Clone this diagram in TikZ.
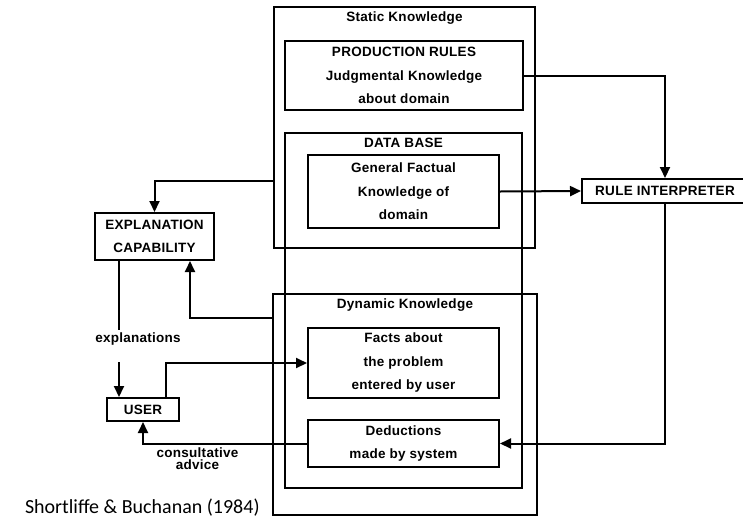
\documentclass[tikz,border=0pt]{standalone}
\usepackage{fontspec}
\setmainfont{Liberation Sans}[LetterSpace=2]
\newfontfamily\creditfont{Carlito}
\usetikzlibrary{arrows.meta, positioning}

\begin{document}
\begin{tikzpicture}[
    x=1pt, y=-1pt,
    >={Triangle[length=11pt,width=10pt]},
    line width=2pt,
    kbox/.style={draw, rectangle, inner sep=0pt, align=center,
        font=\fontsize{13.5}{23.5}\selectfont\bfseries},
    boxtitle/.style={inner sep=0pt, font=\fontsize{13.5}{15}\selectfont\bfseries},
    edgelabel/.style={inner sep=0pt, align=center,
        font=\fontsize{13.5}{12}\selectfont\bfseries}
]
\useasboundingbox (0,0) rectangle (743,517);

% knowledge base: static part, data base and dynamic part overlap
\node[kbox, minimum width=261pt, minimum height=241pt] (static) at (404.5,127.5) {};
\node[boxtitle, below=5pt of static.north] (statictitle) {Static Knowledge};
\node[kbox, minimum width=238pt, minimum height=69pt] (rules) at (404,75.5)
    {PRODUCTION RULES\\Judgmental Knowledge\\about domain};
\node[kbox, minimum width=237pt, minimum height=355pt] (database) at (403.5,310.5) {};
\node[boxtitle, below=5pt of database.north] (dbtitle) {DATA BASE};
\node[kbox, minimum width=191pt, minimum height=73pt] (factual) at (403.5,191.5)
    {General Factual\\Knowledge of\\domain};
\node[kbox, minimum width=264pt, minimum height=221pt] (dynamic) at (405,404.5) {};
\node[boxtitle, below=5pt of dynamic.north] (dyntitle) {Dynamic Knowledge};
\node[kbox, minimum width=191pt, minimum height=70pt] (facts) at (403.5,363)
    {Facts about\\the problem\\entered by user};
\node[kbox, minimum width=191pt, minimum height=47pt] (deductions) at (403.5,443.5)
    {Deductions\\made by system};

% outside the knowledge base
\node[kbox, minimum width=166pt, minimum height=24pt] (interp) at (665,191)
    {RULE INTERPRETER};
\node[kbox, minimum width=119pt, minimum height=47pt] (explain) at (154.5,236.5)
    {EXPLANATION\\CAPABILITY};
\node[kbox, minimum width=72pt, minimum height=23pt] (user) at (143,409.5) {USER};

\node[edgelabel] (explab) at (138,339) {explanations};
\node[edgelabel] (advlab) at (197.5,459) {consultative\\advice};
\node[anchor=base west, inner sep=0pt, font=\creditfont\fontsize{20}{24}\selectfont]
    (credit) at (24,513) {Shortliffe \& Buchanan (1984)};

\coordinate (expdown) at ([xshift=-35.5pt]explain.south);
\coordinate (expin) at ([xshift=35.5pt]explain.south);
\coordinate (userin) at ([xshift=-24pt]user.north);
\coordinate (userout) at ([xshift=23pt]user.north);
\coordinate (explstart) at (119,362);

\draw[->] (rules.east) -| (interp.north);
\draw[->] (factual.east) -- (interp.west);
\draw[->] (interp.south) |- (deductions.east);
\draw[->] ([yshift=-53.5pt]static.west) -| (explain.north);
\draw[->] ([yshift=86.5pt]dynamic.west) -| (expin);
\draw (expdown) -- (expdown |- 0,330);
\draw[->] (explstart) -- (userin);
\draw[->] (userout) |- (facts.west);
\draw[->] (deductions.west) -| (user.south);
\end{tikzpicture}
\end{document}
